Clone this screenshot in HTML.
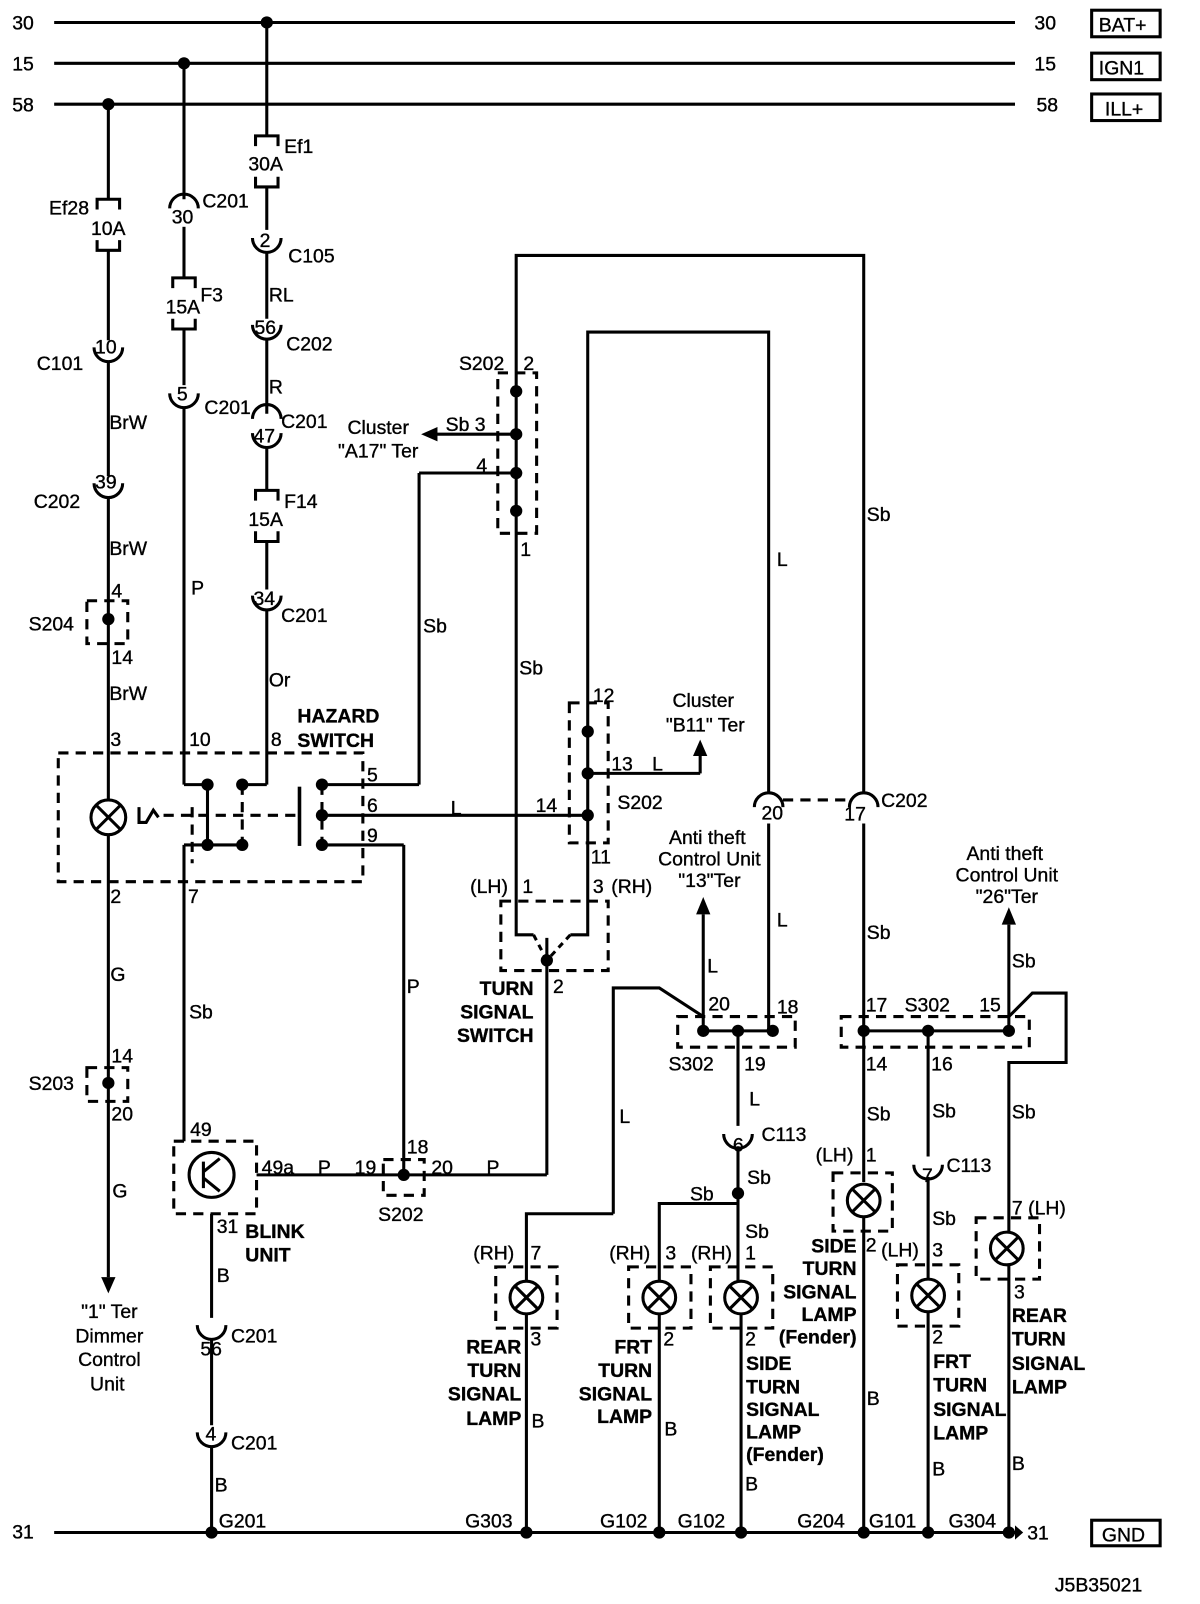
<!DOCTYPE html>
<html><head><meta charset="utf-8"><style>
html,body{margin:0;padding:0;background:#fff}
svg{display:block}
text{font-family:"Liberation Sans",Arial,sans-serif;font-size:19px;fill:#000;stroke:#000;stroke-width:0.35}
.b{font-weight:bold}
</style></head><body>
<svg width="1200" height="1604" viewBox="0 0 1174 1570" preserveAspectRatio="none" xmlns="http://www.w3.org/2000/svg">
<g stroke="#000" stroke-width="3" fill="none">
<line x1="53" y1="22" x2="993" y2="22"/><line x1="53" y1="62" x2="993" y2="62"/><line x1="53" y1="102" x2="993" y2="102"/>
<line x1="53" y1="1500" x2="993" y2="1500"/>
<rect x="1068" y="10" width="67" height="26"/><rect x="1068" y="52" width="67" height="26"/><rect x="1068" y="92" width="67" height="26"/>
<rect x="1068" y="1488" width="67" height="25"/>
<line x1="106" y1="102" x2="106" y2="195"/>
<path d="M95 205V195H117V205M95 235V245H117V235"/>
<line x1="106" y1="245" x2="106" y2="333"/>
<path d="M92 340A14 14 0 0 0 120 340"/>
<line x1="106" y1="354" x2="106" y2="466"/>
<path d="M92 473A14 14 0 0 0 120 473"/>
<line x1="106" y1="487" x2="106" y2="783"/>
<circle cx="106" cy="800" r="17"/><path d="M94 788L118 812M118 788L94 812"/>
<line x1="106" y1="817" x2="106" y2="1250"/>
<line x1="180" y1="62" x2="180" y2="195"/>
<path d="M166 204A14 14 0 0 1 194 204"/>
<line x1="180" y1="222" x2="180" y2="272"/>
<path d="M169 282V272H191V282M169 312V322H191V312"/>
<line x1="180" y1="322" x2="180" y2="377"/>
<path d="M166 385A14 14 0 0 0 194 385"/>
<line x1="180" y1="399" x2="180" y2="768"/>
<line x1="180" y1="768" x2="203" y2="768"/>
<line x1="180" y1="827" x2="180" y2="1117"/>
<line x1="180" y1="827" x2="237" y2="827"/>
<line x1="203" y1="768" x2="203" y2="827"/>
<line x1="261" y1="768" x2="237" y2="768"/>
<line x1="261" y1="22" x2="261" y2="133"/>
<path d="M250 143V133H272V143M250 173V183H272V173"/>
<line x1="261" y1="183" x2="261" y2="225"/>
<path d="M247 233A14 14 0 0 0 275 233"/>
<line x1="261" y1="247" x2="261" y2="312"/>
<path d="M247 318A14 14 0 0 0 275 318"/>
<line x1="261" y1="332" x2="261" y2="405"/>
<path d="M247 410A14 14 0 0 1 275 410M247 424A14 14 0 0 0 275 424"/>
<line x1="261" y1="438" x2="261" y2="480"/>
<path d="M250 490V480H272V490M250 520V530H272V520"/>
<line x1="261" y1="530" x2="261" y2="577"/>
<path d="M247 583A14 14 0 0 0 275 583"/>
<line x1="261" y1="597" x2="261" y2="768"/>
<line x1="293" y1="770" x2="293" y2="828" stroke-width="3.5"/>
<line x1="315" y1="768" x2="410" y2="768"/>
<line x1="410" y1="768" x2="410" y2="463"/>
<line x1="410" y1="463" x2="505" y2="463"/>
<line x1="315" y1="798" x2="575" y2="798"/>
<line x1="315" y1="827" x2="395" y2="827"/>
<line x1="395" y1="827" x2="395" y2="1150"/>
<path d="M136 790V805H143L150 793L155 800"/>
<path d="M505 880V250H845V776"/>
<line x1="505" y1="425" x2="425" y2="425"/>
<path d="M505 880V915H522"/>
<path d="M575 880V325H752V776"/>
<path d="M575 880V915H558"/>
<line x1="575" y1="757" x2="685" y2="757"/>
<line x1="685" y1="757" x2="685" y2="738"/>
<line x1="535" y1="918" x2="535" y2="1150"/>
<line x1="251" y1="1150" x2="535" y2="1150"/>
<path d="M738 790A14 14 0 0 1 766 790M831 790A14 14 0 0 1 859 790"/>
<line x1="752" y1="806" x2="752" y2="1009"/>
<line x1="845" y1="806" x2="845" y2="1157"/>
<line x1="688" y1="1009" x2="756" y2="1009"/>
<line x1="688" y1="1009" x2="688" y2="895"/>
<path d="M600 1188V967H645L688 995"/>
<path d="M600 1188H515V1255"/>
<line x1="722" y1="1009" x2="722" y2="1102"/>
<path d="M708 1110A14 14 0 0 0 736 1110"/>
<line x1="722" y1="1122" x2="722" y2="1255"/>
<path d="M722 1178H645V1255"/>
<line x1="845" y1="1009" x2="987" y2="1009"/>
<line x1="987" y1="1009" x2="987" y2="905"/>
<path d="M987 995L1010 972H1043V1040H987V1205"/>
<line x1="908" y1="1009" x2="908" y2="1132"/>
<path d="M894 1140A14 14 0 0 0 922 1140"/>
<line x1="908" y1="1152" x2="908" y2="1253"/>
<circle cx="515" cy="1270" r="16"/><path d="M504 1259L526 1281M526 1259L504 1281"/>
<circle cx="645" cy="1270" r="16"/><path d="M634 1259L656 1281M656 1259L634 1281"/>
<circle cx="725" cy="1270" r="16"/><path d="M714 1259L736 1281M736 1259L714 1281"/>
<circle cx="845" cy="1175" r="16"/><path d="M834 1164L856 1186M856 1164L834 1186"/>
<circle cx="908" cy="1268" r="16"/><path d="M897 1257L919 1279M919 1257L897 1279"/>
<circle cx="985" cy="1222" r="16"/><path d="M974 1211L996 1233M996 1211L974 1233"/>
<line x1="515" y1="1286" x2="515" y2="1500"/>
<line x1="645" y1="1286" x2="645" y2="1500"/>
<line x1="725" y1="1286" x2="725" y2="1500"/>
<line x1="845" y1="1191" x2="845" y2="1500"/>
<line x1="908" y1="1284" x2="908" y2="1500"/>
<line x1="987" y1="1238" x2="987" y2="1500"/>
<circle cx="207" cy="1150" r="22"/>
<path d="M199 1137V1163M199 1147L215 1134M199 1153L215 1166"/>
<line x1="207" y1="1188" x2="207" y2="1290"/>
<path d="M193 1297A14 14 0 0 0 221 1297"/>
<line x1="207" y1="1311" x2="207" y2="1395"/>
<path d="M193 1402A14 14 0 0 0 221 1402"/>
<line x1="207" y1="1416" x2="207" y2="1500"/>
</g>
<g stroke="#000" stroke-width="3" fill="none" stroke-dasharray="10,7">
<rect x="57" y="737" width="298" height="126"/>
<rect x="85" y="588" width="40" height="42"/>
<rect x="85" y="1045" width="40" height="33"/>
<rect x="487" y="365" width="38" height="157"/>
<rect x="557" y="688" width="38" height="137"/>
<rect x="490" y="882" width="105" height="68"/>
<rect x="663" y="995" width="115" height="30"/>
<rect x="823" y="995" width="184" height="30"/>
<rect x="170" y="1117" width="81" height="71"/>
<rect x="375" y="1135" width="40" height="35"/>
<rect x="485" y="1240" width="60" height="60"/>
<rect x="615" y="1240" width="61" height="60"/>
<rect x="695" y="1240" width="61" height="60"/>
<rect x="815" y="1148" width="58" height="57"/>
<rect x="878" y="1238" width="60" height="60"/>
<rect x="955" y="1192" width="62" height="60"/>
<line x1="160" y1="798" x2="293" y2="798"/>
<line x1="237" y1="768" x2="237" y2="827"/>
<line x1="188" y1="790" x2="188" y2="845"/>
<line x1="315" y1="768" x2="315" y2="827"/>
<line x1="766" y1="783" x2="831" y2="783"/>
<line x1="522" y1="915" x2="535" y2="940" stroke-dasharray="6,5"/>
<line x1="558" y1="915" x2="535" y2="940" stroke-dasharray="6,5"/>
</g>
<g fill="#000">
<circle cx="261" cy="22" r="6"/><circle cx="180" cy="62" r="6"/><circle cx="106" cy="102" r="6"/>
<circle cx="106" cy="606" r="6"/><circle cx="106" cy="1060" r="6"/>
<circle cx="203" cy="768" r="6"/><circle cx="237" cy="768" r="6"/><circle cx="203" cy="827" r="6"/><circle cx="237" cy="827" r="6"/>
<circle cx="315" cy="768" r="6"/><circle cx="315" cy="798" r="6"/><circle cx="315" cy="827" r="6"/>
<circle cx="505" cy="383" r="6"/><circle cx="505" cy="425" r="6"/><circle cx="505" cy="463" r="6"/><circle cx="505" cy="500" r="6"/>
<circle cx="575" cy="716" r="6"/><circle cx="575" cy="757" r="6"/><circle cx="575" cy="798" r="6"/>
<circle cx="535" cy="940" r="6"/><circle cx="395" cy="1150" r="6"/>
<circle cx="688" cy="1009" r="6"/><circle cx="722" cy="1009" r="6"/><circle cx="756" cy="1009" r="6"/>
<circle cx="845" cy="1009" r="6"/><circle cx="908" cy="1009" r="6"/><circle cx="987" cy="1009" r="6"/>
<circle cx="722" cy="1168" r="6"/>
<circle cx="207" cy="1500" r="6"/><circle cx="515" cy="1500" r="6"/><circle cx="645" cy="1500" r="6"/><circle cx="725" cy="1500" r="6"/><circle cx="845" cy="1500" r="6"/><circle cx="908" cy="1500" r="6"/><circle cx="987" cy="1500" r="6"/>
<polygon points="99,1250 113,1250 106,1266"/>
<polygon points="412,425 428,418 428,432"/>
<polygon points="685,724 678,740 692,740"/>
<polygon points="688,878 681,895 695,895"/>
<polygon points="987,888 980,905 994,905"/>
<polygon points="993,1493 993,1507 1001,1500"/>
</g>
<g>
<text x="12" y="29">30</text><text x="12" y="69">15</text><text x="12" y="109">58</text>
<text x="1012" y="29">30</text><text x="1012" y="69">15</text><text x="1014" y="109">58</text>
<text x="1075" y="31">BAT+</text><text x="1075" y="73">IGN1</text><text x="1081" y="113">ILL+</text>
<text x="12" y="1506">31</text><text x="1005" y="1507">31</text><text x="1078" y="1509">GND</text>
<text x="1032" y="1558">J5B35021</text>
<text x="48" y="210">Ef28</text><text x="89" y="230">10A</text>
<text x="36" y="362">C101</text><text x="93" y="346">10</text>
<text x="107" y="420">BrW</text>
<text x="33" y="497">C202</text><text x="93" y="478">39</text>
<text x="107" y="543">BrW</text>
<text x="109" y="585">4</text><text x="28" y="617">S204</text><text x="109" y="650">14</text>
<text x="107" y="685">BrW</text><text x="108" y="730">3</text>
<text x="108" y="884">2</text><text x="108" y="960">G</text>
<text x="109" y="1040">14</text><text x="28" y="1067">S203</text><text x="109" y="1097">20</text>
<text x="110" y="1172">G</text>
<text x="107" y="1290" text-anchor="middle">"1" Ter</text>
<text x="107" y="1314" text-anchor="middle">Dimmer</text>
<text x="107" y="1337" text-anchor="middle">Control</text>
<text x="105" y="1361" text-anchor="middle">Unit</text>
<text x="168" y="219">30</text><text x="198" y="203">C201</text>
<text x="162" y="307">15A</text><text x="196" y="295">F3</text>
<text x="173" y="392">5</text><text x="200" y="405">C201</text>
<text x="187" y="582">P</text><text x="185" y="730">10</text><text x="184" y="884">7</text>
<text x="185" y="997">Sb</text><text x="186" y="1112">49</text>
<text x="243" y="167">30A</text><text x="278" y="150">Ef1</text>
<text x="254" y="242">2</text><text x="282" y="257">C105</text>
<text x="263" y="295">RL</text>
<text x="249" y="327">56</text><text x="280" y="343">C202</text>
<text x="263" y="385">R</text>
<text x="248" y="433">47</text><text x="275" y="419">C201</text>
<text x="243" y="515">15A</text><text x="278" y="497">F14</text>
<text x="248" y="592">34</text><text x="275" y="609">C201</text>
<text x="263" y="672">Or</text><text x="265" y="730">8</text>
<text x="291" y="707" class="b">HAZARD</text><text x="291" y="731" class="b">SWITCH</text>
<text x="359" y="765">5</text><text x="359" y="795">6</text><text x="359" y="824">9</text>
<text x="441" y="797">L</text><text x="524" y="795">14</text>
<text x="398" y="972">P</text>
<text x="449" y="362">S202</text><text x="512" y="362">2</text>
<text x="370" y="425" text-anchor="middle">Cluster</text><text x="370" y="448" text-anchor="middle">"A17" Ter</text>
<text x="436" y="422">Sb 3</text><text x="466" y="462">4</text><text x="509" y="544">1</text>
<text x="414" y="619">Sb</text><text x="508" y="660">Sb</text>
<text x="848" y="510">Sb</text><text x="760" y="554">L</text>
<text x="580" y="687">12</text><text x="598" y="754">13</text><text x="638" y="754">L</text>
<text x="688" y="692" text-anchor="middle">Cluster</text><text x="690" y="716" text-anchor="middle">"B11" Ter</text>
<text x="604" y="792">S202</text><text x="578" y="845">11</text>
<text x="460" y="874">(LH)</text><text x="511" y="874">1</text><text x="580" y="874">3</text><text x="598" y="874">(RH)</text>
<text x="541" y="972">2</text>
<text x="522" y="974" text-anchor="end" class="b">TURN</text>
<text x="522" y="997" text-anchor="end" class="b">SIGNAL</text>
<text x="522" y="1020" text-anchor="end" class="b">SWITCH</text>
<text x="745" y="802">20</text><text x="826" y="803">17</text><text x="862" y="790">C202</text>
<text x="692" y="826" text-anchor="middle">Anti theft</text><text x="694" y="847" text-anchor="middle">Control Unit</text><text x="694" y="868" text-anchor="middle">"13"Ter</text>
<text x="983" y="842" text-anchor="middle">Anti theft</text><text x="985" y="863" text-anchor="middle">Control Unit</text><text x="985" y="884" text-anchor="middle">"26"Ter</text>
<text x="760" y="907">L</text><text x="692" y="952">L</text>
<text x="693" y="989">20</text><text x="760" y="992">18</text><text x="654" y="1048">S302</text><text x="728" y="1048">19</text>
<text x="733" y="1082">L</text><text x="606" y="1099">L</text>
<text x="717" y="1127">6</text><text x="745" y="1117">C113</text>
<text x="731" y="1159">Sb</text><text x="675" y="1175">Sb</text><text x="729" y="1212">Sb</text>
<text x="848" y="919">Sb</text><text x="990" y="947">Sb</text>
<text x="847" y="990">17</text><text x="885" y="990">S302</text><text x="958" y="990">15</text>
<text x="847" y="1048">14</text><text x="911" y="1048">16</text>
<text x="848" y="1097">Sb</text><text x="912" y="1094">Sb</text><text x="990" y="1095">Sb</text>
<text x="902" y="1157">7</text><text x="926" y="1147">C113</text>
<text x="912" y="1199">Sb</text>
<text x="798" y="1137">(LH)</text><text x="847" y="1137">1</text><text x="847" y="1225">2</text>
<g class="b">
<text x="838" y="1226" text-anchor="end">SIDE</text><text x="838" y="1248" text-anchor="end">TURN</text><text x="838" y="1271" text-anchor="end">SIGNAL</text><text x="838" y="1293" text-anchor="end">LAMP</text><text x="838" y="1315" text-anchor="end">(Fender)</text>
<text x="510" y="1325" text-anchor="end">REAR</text><text x="510" y="1348" text-anchor="end">TURN</text><text x="510" y="1371" text-anchor="end">SIGNAL</text><text x="510" y="1395" text-anchor="end">LAMP</text>
<text x="638" y="1325" text-anchor="end">FRT</text><text x="638" y="1348" text-anchor="end">TURN</text><text x="638" y="1371" text-anchor="end">SIGNAL</text><text x="638" y="1393" text-anchor="end">LAMP</text>
<text x="730" y="1341">SIDE</text><text x="730" y="1364">TURN</text><text x="730" y="1386">SIGNAL</text><text x="730" y="1408">LAMP</text><text x="730" y="1430">(Fender)</text>
<text x="913" y="1339">FRT</text><text x="913" y="1362">TURN</text><text x="913" y="1386">SIGNAL</text><text x="913" y="1409">LAMP</text>
<text x="990" y="1294">REAR</text><text x="990" y="1317">TURN</text><text x="990" y="1341">SIGNAL</text><text x="990" y="1364">LAMP</text>
<text x="240" y="1212">BLINK</text><text x="240" y="1235">UNIT</text>
</g>
<text x="463" y="1233">(RH)</text><text x="519" y="1233">7</text><text x="519" y="1317">3</text><text x="520" y="1397">B</text>
<text x="596" y="1233">(RH)</text><text x="651" y="1233">3</text><text x="649" y="1317">2</text><text x="650" y="1405">B</text>
<text x="676" y="1233">(RH)</text><text x="729" y="1233">1</text><text x="729" y="1317">2</text><text x="729" y="1459">B</text>
<text x="848" y="1375">B</text>
<text x="862" y="1230">(LH)</text><text x="912" y="1230">3</text><text x="912" y="1315">2</text><text x="912" y="1444">B</text>
<text x="990" y="1189">7 (LH)</text><text x="992" y="1271">3</text><text x="990" y="1439">B</text>
<text x="256" y="1149">49a</text><text x="311" y="1149">P</text><text x="347" y="1149">19</text><text x="422" y="1149">20</text><text x="476" y="1149">P</text>
<text x="398" y="1129">18</text><text x="370" y="1195">S202</text>
<text x="212" y="1207">31</text><text x="212" y="1255">B</text>
<text x="196" y="1327">56</text><text x="226" y="1314">C201</text>
<text x="201" y="1410">4</text><text x="226" y="1419">C201</text>
<text x="210" y="1460">B</text>
<text x="214" y="1495">G201</text><text x="455" y="1495">G303</text><text x="587" y="1495">G102</text><text x="663" y="1495">G102</text>
<text x="780" y="1495">G204</text><text x="850" y="1495">G101</text><text x="928" y="1495">G304</text>
</g>
</svg>
</body></html>
